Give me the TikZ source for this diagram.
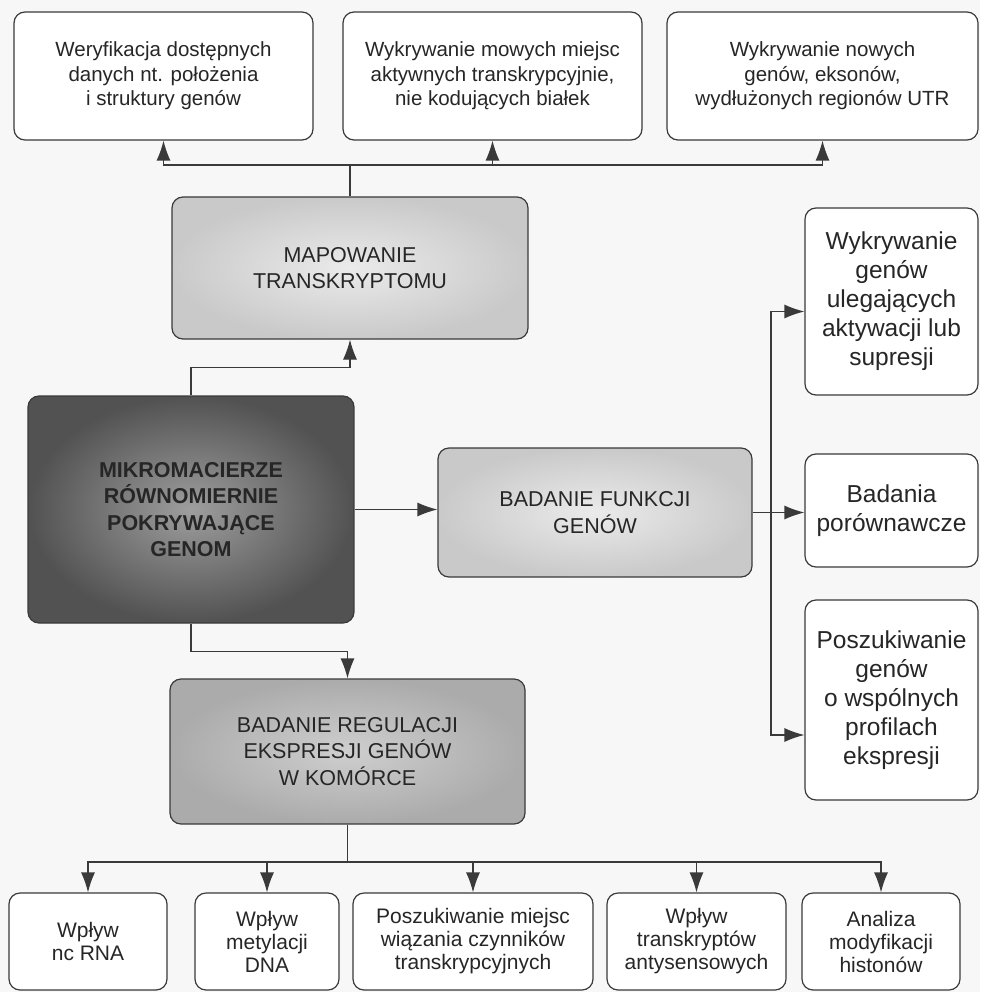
\documentclass[tikz,border=0pt]{standalone}
\usepackage{fontspec}
\setmainfont{Liberation Sans}
\usetikzlibrary{arrows.meta,calc}
\definecolor{linia}{HTML}{3A3A3A}
\definecolor{tlo}{HTML}{F7F7F7}
\begin{document}
\begin{tikzpicture}[x=1pt, y=-1pt,
    box/.style={draw=linia, line width=1.2pt, rounded corners=11pt, fill=white,
        align=center, inner sep=0pt, text=black!85},
    jasny/.style={box, shading=radial, inner color=black!8, outer color=black!21},
    sredni/.style={box, shading=radial, inner color=black!19, outer color=black!33},
    ciemny/.style={box, shading=radial, inner color=black!38, outer color=black!68},
    maly/.style={font=\fontsize{20.5}{24.5}\selectfont},
    dolny/.style={font=\fontsize{21}{23}\selectfont},
    boczny/.style={font=\fontsize{24.5}{29}\selectfont},
    duzy/.style={font=\fontsize{21.5}{26.5}\selectfont},
    strz/.style={-{Latex[length=20pt,width=14pt]}, draw=linia, line width=1.2pt}]
    \useasboundingbox[fill=tlo] (0,0) rectangle (980,992);

    % 1. Górny rząd
    \node[box, maly, minimum width=299pt, minimum height=128pt] (tver) at (163.5,76)
        {Weryfikacja dostępnych\\danych nt. położenia\\i struktury genów};
    \node[box, maly, minimum width=299pt, minimum height=128pt] (tnew) at (492.5,76)
        {Wykrywanie mowych miejsc\\aktywnych transkrypcyjnie,\\nie kodujących białek};
    \node[box, maly, minimum width=311pt, minimum height=128pt] (tgen) at (822.5,76)
        {Wykrywanie nowych\\genów, eksonów,\\wydłużonych regionów UTR};

    % 2. Bloki środkowe
    \node[jasny, duzy, minimum width=356pt, minimum height=142pt] (mapo) at (350,268)
        {MAPOWANIE\\TRANSKRYPTOMU};
    \node[ciemny, duzy, minimum width=326pt, minimum height=227pt, font=\fontsize{21.5}{26.5}\selectfont\bfseries] (mikro) at (191,509.5)
        {MIKROMACIERZE\\RÓWNOMIERNIE\\POKRYWAJĄCE\\GENOM};
    \node[jasny, duzy, minimum width=314pt, minimum height=129pt] (funk) at (595,512.5)
        {BADANIE FUNKCJI\\GENÓW};
    \node[sredni, duzy, minimum width=355pt, minimum height=145pt] (reg) at (347.5,751.5)
        {BADANIE REGULACJI\\EKSPRESJI GENÓW\\W KOMÓRCE};

    % 3. Prawa kolumna
    \node[box, boczny, minimum width=173pt, minimum height=187pt] (ract) at (891.5,301.5)
        {Wykrywanie\\genów\\ulegających\\aktywacji lub\\supresji};
    \node[box, boczny, minimum width=173pt, minimum height=113pt] (rpor) at (891.5,510.5)
        {Badania\\porównawcze};
    \node[box, boczny, minimum width=173pt, minimum height=200pt] (rprof) at (891.5,700)
        {Poszukiwanie\\genów\\o wspólnych\\profilach\\ekspresji};

    % 4. Dolny rząd
    \node[box, dolny, minimum width=158pt, minimum height=97pt] (bnc) at (88,941.5)
        {Wpływ\\nc RNA};
    \node[box, dolny, minimum width=144pt, minimum height=97pt] (bmet) at (267,941.5)
        {Wpływ\\metylacji\\DNA};
    \node[box, dolny, minimum width=240pt, minimum height=97pt] (bwiaz) at (473,941.5)
        {Poszukiwanie miejsc\\wiązania czynników\\transkrypcyjnych};
    \node[box, dolny, minimum width=179pt, minimum height=97pt] (banty) at (696.5,941.5)
        {Wpływ\\transkryptów\\antysensowych};
    \node[box, dolny, minimum width=158pt, minimum height=97pt] (bhist) at (881,941.5)
        {Analiza\\modyfikacji\\histonów};

    % 5. Połączenia
    \coordinate (gora) at (350,165);
    \draw[linia, line width=1.2pt] (mapo.north) -- (gora);
    \draw[strz] (gora) -| (tver.south);
    \draw[strz] (gora) -| (tnew.south);
    \draw[strz] (gora) -| (tgen.south);

    \draw[strz] (mikro.north) -- ++(0,-28) -| (mapo.south);
    \draw[strz] (mikro.east) -- (mikro.east -| funk.west);
    \draw[strz] (mikro.south) -- ++(0,28) -| (reg.north);

    \coordinate (prawa) at (771,512.5);
    \draw[linia, line width=1.2pt] (funk.east) -- (prawa);
    \draw[strz] (prawa) |- ($(ract.west)+(0,10)$);
    \draw[strz] (prawa) -- (prawa -| rpor.west);
    \draw[strz] (prawa) |- ($(rprof.west)+(0,35)$);

    \coordinate (dol) at (347.5,862);
    \draw[linia, line width=1.2pt] (reg.south) -- (dol);
    \foreach \b in {bnc, bmet, bwiaz, banty, bhist}
        \draw[strz] (dol) -| (\b.north);
\end{tikzpicture}
\end{document}
